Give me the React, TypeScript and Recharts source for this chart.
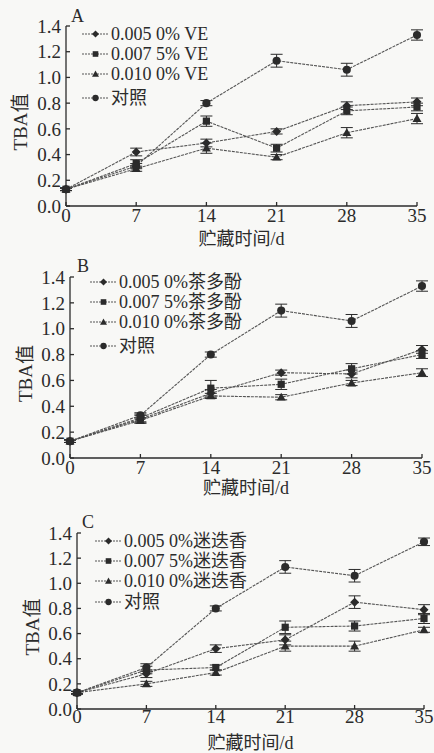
import { LineChart, Line, XAxis, YAxis, ErrorBar, Legend } from 'recharts';

const days = [0, 7, 14, 21, 28, 35];
const yTicks = [0, 0.2, 0.4, 0.6, 0.8, 1.0, 1.2, 1.4];

// panel A - VE
const veNames = ['0.005 0% VE', '0.007 5% VE', '0.010 0% VE', '对照'];
const veLow = [0.13, 0.42, 0.49, 0.58, 0.78, 0.81];
const veMid = [0.13, 0.33, 0.66, 0.45, 0.74, 0.77];
const veHigh = [0.13, 0.29, 0.45, 0.38, 0.57, 0.68];
const veCk = [0.13, 0.31, 0.80, 1.13, 1.06, 1.33];
const veLowErr = [0.01, 0.03, 0.03, 0.02, 0.03, 0.03];
const veMidErr = [0.01, 0.03, 0.04, 0.03, 0.03, 0.03];
const veHighErr = [0.01, 0.02, 0.04, 0.02, 0.04, 0.04];
const veCkErr = [0.01, 0.02, 0.02, 0.05, 0.05, 0.04];

// panel B - 茶多酚
const tpNames = ['0.005 0%茶多酚', '0.007 5%茶多酚', '0.010 0%茶多酚', '对照'];
const tpLow = [0.13, 0.30, 0.50, 0.66, 0.65, 0.84];
const tpMid = [0.13, 0.31, 0.54, 0.57, 0.69, 0.80];
const tpHigh = [0.13, 0.29, 0.48, 0.47, 0.58, 0.66];
const tpCk = [0.13, 0.33, 0.80, 1.14, 1.06, 1.33];
const tpLowErr = [0.01, 0.03, 0.03, 0.02, 0.03, 0.03];
const tpMidErr = [0.01, 0.03, 0.06, 0.04, 0.04, 0.03];
const tpHighErr = [0.01, 0.02, 0.02, 0.02, 0.02, 0.03];
const tpCkErr = [0.01, 0.02, 0.02, 0.05, 0.05, 0.04];

// panel C - 迷迭香
const rmNames = ['0.005 0%迷迭香', '0.007 5%迷迭香', '0.010 0%迷迭香', '对照'];
const rmLow = [0.13, 0.28, 0.48, 0.55, 0.85, 0.79];
const rmMid = [0.13, 0.31, 0.33, 0.65, 0.66, 0.72];
const rmHigh = [0.13, 0.20, 0.29, 0.50, 0.50, 0.63];
const rmCk = [0.13, 0.33, 0.80, 1.13, 1.06, 1.33];
const rmLowErr = [0.01, 0.03, 0.03, 0.04, 0.05, 0.04];
const rmMidErr = [0.01, 0.03, 0.02, 0.05, 0.04, 0.04];
const rmHighErr = [0.01, 0.02, 0.02, 0.04, 0.04, 0.02];
const rmCkErr = [0.01, 0.03, 0.02, 0.05, 0.05, 0.03];

const makeRows = (s1, s2, s3, ck, e1, e2, e3, ek) =>
  days.map((d, i) => ({
    day: d,
    s1: s1[i], s1e: e1[i],
    s2: s2[i], s2e: e2[i],
    s3: s3[i], s3e: e3[i],
    ck: ck[i], cke: ek[i],
  }));

const FONT = '"Liberation Serif", "Noto Sans CJK SC", serif';
const INK = '#2b2b2b';
const LINE = '#555';
const shapes = ['diamond', 'square', 'triangle', 'circle'];
const keys = ['s1', 's2', 's3', 'ck'];

function Marker({ cx, cy, shape, s = 4.5 }) {
  if (cx == null || cy == null) return null;
  if (shape === 'diamond')
    return <polygon points={`${cx},${cy - s} ${cx + s},${cy} ${cx},${cy + s} ${cx - s},${cy}`} fill={INK} />;
  if (shape === 'square')
    return <rect x={cx - s * 0.8} y={cy - s * 0.8} width={s * 1.6} height={s * 1.6} fill={INK} />;
  if (shape === 'triangle')
    return <polygon points={`${cx},${cy - s} ${cx + s},${cy + s * 0.75} ${cx - s},${cy + s * 0.75}`} fill={INK} />;
  return <circle cx={cx} cy={cy} r={s * 0.9} fill={INK} />;
}

function LegendBox({ names, gap }) {
  return (
    <div style={{ fontFamily: FONT, fontSize: 18, color: INK, lineHeight: '20px' }}>
      {names.map((n, i) => (
        <div key={n} style={{ display: 'flex', alignItems: 'center', marginTop: i === 3 ? gap : 0 }}>
          <svg width={27} height={12} style={{ marginRight: 2 }}>
            <line x1={0} y1={6} x2={27} y2={6} stroke={LINE} strokeWidth={1} strokeDasharray="2 1" />
            <Marker cx={13.5} cy={6} shape={shapes[i]} s={3.5} />
          </svg>
          <span>{n}</span>
        </div>
      ))}
    </div>
  );
}

const panels = [
  {
    letter: 'A', names: veNames,
    rows: makeRows(veLow, veMid, veHigh, veCk, veLowErr, veMidErr, veHighErr, veCkErr),
    top: 0, h: 250, left: 66, right: 417, plotTop: 26, plotBottom: 206,
    letterX: 71, letterY: 6, legX: 82, legY: 24, legGap: 4, xLabOff: 5, yLabX: 20, tickGap: 7,
  },
  {
    letter: 'B', names: tpNames,
    rows: makeRows(tpLow, tpMid, tpHigh, tpCk, tpLowErr, tpMidErr, tpHighErr, tpCkErr),
    top: 250, h: 250, left: 70, right: 422, plotTop: 27, plotBottom: 208,
    letterX: 77, letterY: 6, legX: 90, legY: 22, legGap: 4, xLabOff: 6, yLabX: 25, tickGap: 7,
  },
  {
    letter: 'C', names: rmNames,
    rows: makeRows(rmLow, rmMid, rmHigh, rmCk, rmLowErr, rmMidErr, rmHighErr, rmCkErr),
    top: 497, h: 256, left: 77, right: 424, plotTop: 36, plotBottom: 212,
    letterX: 82, letterY: 15, legX: 95, legY: 34, legGap: 1, xLabOff: 4, yLabX: 32, tickGap: 5,
  },
];

function Panel({ p }) {
  const tick = { fill: INK, fontSize: 19, fontFamily: FONT };
  return (
    <div style={{ position: 'absolute', left: 0, top: p.top, width: 434, height: p.h }}>
      <LineChart
        width={434}
        height={p.h}
        data={p.rows}
        margin={{ top: p.plotTop, right: 434 - p.right, bottom: 0, left: 0 }}
      >
        <XAxis
          dataKey="day"
          type="number"
          domain={[0, 35]}
          ticks={days}
          interval={0}
          height={p.h - p.plotBottom}
          tickSize={-4}
          tickMargin={p.tickGap}
          stroke={INK}
          strokeWidth={1.3}
          tick={tick}
          label={{ value: '贮藏时间/d', position: 'insideBottom', offset: p.xLabOff, fill: INK, fontSize: 18, fontFamily: FONT }}
        />
        <YAxis
          type="number"
          domain={[0, 1.4]}
          ticks={yTicks}
          interval={0}
          width={p.left}
          tickSize={-4}
          tickMargin={9}
          stroke={INK}
          strokeWidth={1.3}
          tick={tick}
          tickFormatter={(v) => v.toFixed(1)}
          label={{
            content: ({ viewBox }) => {
              const cy = viewBox.y + viewBox.height / 2 + 6;
              return (
                <text
                  x={p.yLabX}
                  y={cy}
                  transform={`rotate(-90 ${p.yLabX} ${cy})`}
                  textAnchor="middle"
                  dominantBaseline="central"
                  fill={INK}
                  fontSize={19}
                  fontFamily={FONT}
                >
                  TBA值
                </text>
              );
            },
          }}
        />
        <Legend
          layout="horizontal"
          verticalAlign="middle"
          align="center"
          wrapperStyle={{ left: p.legX, top: p.legY, width: 'auto' }}
          content={() => <LegendBox names={p.names} gap={p.legGap} />}
        />
        {keys.map((k, i) => (
          <Line
            key={k}
            dataKey={k}
            name={p.names[i]}
            stroke={LINE}
            strokeWidth={1.1}
            strokeDasharray="3 1"
            isAnimationActive={false}
            dot={(d) => <Marker key={`${k}-${d.index}`} cx={d.cx} cy={d.cy} shape={shapes[i]} />}
            activeDot={false}
          >
            <ErrorBar dataKey={`${k}e`} direction="y" width={6} stroke={INK} strokeWidth={1} />
          </Line>
        ))}
      </LineChart>
      <div
        style={{
          position: 'absolute', left: p.letterX, top: p.letterY,
          fontFamily: FONT, fontSize: 18, color: INK, lineHeight: '20px',
        }}
      >
        {p.letter}
      </div>
    </div>
  );
}

export default function App() {
  return (
    <div style={{ position: 'absolute', left: 0, top: 0, width: 434, height: 753, background: '#f8f8f6', overflow: 'hidden' }}>
      {panels.map((p) => (
        <Panel key={p.letter} p={p} />
      ))}
    </div>
  );
}
